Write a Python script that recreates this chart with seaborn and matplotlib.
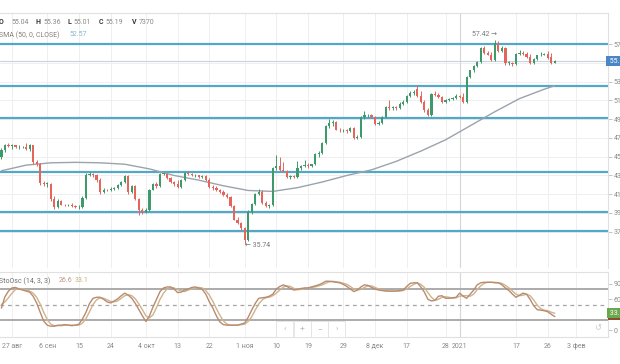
import numpy as np
import pandas as pd
import matplotlib
matplotlib.use("Agg")
import matplotlib.pyplot as plt
import matplotlib.dates as mdates
import matplotlib.transforms as mtrans
from matplotlib.patches import Rectangle
import seaborn as sns

# ---------------- data ----------------
dates = pd.date_range("2020-08-24", periods=158, freq="D")

opens = [45.0, 45.7, 46.3, 46.1, 46.2, 46.0, 46.0, 46.0, 45.8, 46.2,
         44.4, 44.2, 42.2, 42.1, 42.1, 40.5, 39.6, 40.3, 39.9, 39.8,
         39.9, 39.7, 39.6, 39.6, 40.6, 43.1, 43.2, 43.0, 42.5, 41.2,
         41.5, 41.4, 41.6, 41.7, 42.0, 42.3, 42.9, 41.2, 41.9, 40.5,
         39.3, 39.1, 39.3, 41.5, 42.1, 41.9, 43.2, 43.2, 42.7, 42.3,
         42.1, 41.8, 42.5, 43.3, 43.2, 43.0, 43.0, 42.8, 42.9, 42.5,
         41.8, 41.7, 41.4, 41.2, 40.9, 40.7, 39.7, 38.3, 37.9, 37.4,
         36.1, 39.1, 40.0, 41.0, 41.2, 40.1, 39.7, 39.8, 43.8, 44.0,
         43.6, 43.5, 42.8, 42.9, 42.8, 43.8, 44.0, 44.1, 44.0, 44.2,
         45.3, 45.4, 46.5, 48.3, 48.6, 48.7, 47.9, 47.8, 47.9, 47.7,
         48.1, 47.0, 47.1, 49.2, 49.4, 49.5, 49.2, 48.5, 48.6, 49.2,
         50.3, 50.2, 50.3, 50.2, 50.6, 50.8, 51.5, 51.8, 52.2, 51.5,
         50.8, 50.0, 49.4, 51.7, 51.6, 51.4, 50.8, 51.0, 51.2, 51.3,
         51.5, 51.4, 50.8, 53.5, 54.2, 54.7, 55.1, 56.6, 56.1, 55.9,
         55.3, 57.1, 56.3, 56.6, 55.0, 55.0, 54.9, 56.0, 56.1, 56.0,
         55.6, 55.0, 55.4, 55.8, 55.9, 56.0, 55.6, 55.04]

highs = [45.9, 46.4, 46.5, 46.4, 46.3, 46.2, 46.1, 46.5, 46.4, 46.3,
         44.7, 44.3, 42.4, 42.3, 42.2, 40.8, 40.5, 40.4, 40.0, 40.0,
         40.1, 39.9, 39.8, 40.8, 43.3, 43.4, 43.3, 43.2, 42.7, 41.7,
         41.6, 41.8, 41.8, 42.1, 42.4, 43.1, 43.0, 42.0, 42.0, 40.6,
         39.5, 39.5, 41.6, 42.2, 42.3, 43.3, 43.4, 43.3, 42.8, 42.4,
         42.5, 42.6, 43.4, 43.5, 43.3, 43.2, 43.1, 43.0, 43.0, 42.7,
         42.0, 41.9, 41.6, 41.4, 41.1, 40.8, 39.8, 38.6, 38.0, 37.5,
         39.3, 40.1, 41.1, 41.6, 41.4, 40.3, 40.0, 43.9, 45.2, 45.0,
         44.4, 43.6, 43.0, 43.0, 44.5, 44.1, 44.6, 44.3, 44.2, 45.4,
         45.6, 46.6, 48.4, 49.0, 48.9, 48.8, 48.1, 48.0, 48.0, 48.2,
         48.2, 47.3, 49.3, 49.9, 49.6, 49.6, 49.3, 48.8, 49.3, 50.4,
         51.0, 50.4, 50.4, 50.8, 51.0, 51.6, 52.0, 52.1, 52.6, 52.0,
         51.0, 50.2, 51.8, 52.0, 51.8, 51.5, 51.2, 51.3, 51.4, 51.7,
         51.6, 51.8, 53.6, 54.3, 54.8, 55.2, 56.7, 56.8, 56.3, 56.2,
         57.42, 57.3, 56.8, 56.7, 55.2, 55.1, 56.1, 56.4, 56.3, 56.2,
         56.0, 55.5, 55.9, 56.2, 56.1, 56.3, 56.1, 55.36]

lows = [44.8, 45.5, 46.0, 45.8, 45.9, 45.8, 45.9, 45.7, 45.6, 44.2,
        44.0, 42.0, 41.9, 41.8, 40.3, 39.4, 39.5, 39.8, 39.7, 39.7,
        39.6, 39.5, 39.4, 39.5, 40.5, 42.9, 42.8, 42.3, 41.0, 41.1,
        41.3, 41.3, 41.4, 41.6, 41.9, 42.2, 41.0, 41.1, 40.4, 38.8,
        38.9, 39.0, 39.2, 41.4, 41.7, 41.8, 43.0, 42.6, 42.2, 41.9,
        41.7, 41.7, 42.4, 43.0, 42.9, 42.8, 42.7, 42.7, 42.4, 41.7,
        41.5, 41.3, 41.1, 40.8, 40.6, 39.6, 38.2, 37.8, 37.2, 35.74,
        36.0, 38.9, 39.9, 40.9, 40.0, 39.6, 39.5, 39.7, 43.6, 43.5,
        43.4, 42.7, 42.6, 42.7, 42.7, 43.6, 43.9, 43.8, 43.9, 44.1,
        45.0, 45.3, 46.4, 48.1, 48.3, 47.8, 47.6, 47.6, 47.5, 47.6,
        46.9, 46.9, 47.0, 49.0, 49.2, 49.1, 48.4, 48.4, 48.5, 49.1,
        50.0, 50.0, 50.0, 50.1, 50.5, 50.7, 51.4, 51.6, 51.4, 50.7,
        49.8, 49.3, 49.3, 51.5, 51.3, 50.7, 50.7, 50.9, 51.1, 51.2,
        51.3, 50.7, 50.7, 53.4, 54.0, 54.6, 55.0, 56.0, 55.8, 55.2,
        55.2, 56.2, 56.2, 54.8, 54.8, 54.7, 54.8, 55.8, 55.9, 55.5,
        54.9, 54.9, 55.3, 55.7, 55.8, 55.4, 54.9, 55.01]

closes = [45.7, 46.3, 46.1, 46.2, 46.0, 46.0, 46.0, 45.8, 46.2, 44.4,
          44.2, 42.2, 42.1, 42.1, 40.5, 39.6, 40.3, 39.9, 39.8, 39.9,
          39.7, 39.6, 39.6, 40.6, 43.1, 43.2, 43.0, 42.5, 41.2, 41.5,
          41.4, 41.6, 41.7, 42.0, 42.3, 42.9, 41.2, 41.9, 40.5, 39.3,
          39.1, 39.3, 41.5, 42.1, 41.9, 43.2, 43.2, 42.7, 42.3, 42.1,
          41.8, 42.5, 43.3, 43.2, 43.0, 43.0, 42.8, 42.9, 42.5, 41.8,
          41.7, 41.4, 41.2, 40.9, 40.7, 39.7, 38.3, 37.9, 37.4, 36.1,
          39.1, 40.0, 41.0, 41.2, 40.1, 39.7, 39.8, 43.8, 44.0, 43.6,
          43.5, 42.8, 42.9, 42.8, 43.8, 44.0, 44.1, 44.0, 44.2, 45.3,
          45.4, 46.5, 48.3, 48.6, 48.7, 47.9, 47.8, 47.9, 47.7, 48.1,
          47.0, 47.1, 49.2, 49.4, 49.5, 49.2, 48.5, 48.6, 49.2, 50.3,
          50.2, 50.3, 50.2, 50.6, 50.8, 51.5, 51.8, 51.9, 51.5, 50.8,
          50.0, 49.4, 51.7, 51.6, 51.4, 50.8, 51.0, 51.2, 51.3, 51.5,
          51.4, 50.8, 53.5, 54.2, 54.7, 55.1, 56.6, 56.1, 55.9, 55.3,
          57.1, 56.3, 56.6, 55.0, 55.0, 54.9, 56.0, 56.1, 56.0, 55.6,
          55.0, 55.4, 55.8, 55.9, 56.0, 55.5, 55.04, 55.19]

volume_last = 7370

sma_dates = ["2020-08-24", "2020-08-31", "2020-09-07", "2020-09-14", "2020-09-21",
             "2020-09-28", "2020-10-05", "2020-10-12", "2020-10-19", "2020-10-26",
             "2020-11-02", "2020-11-09", "2020-11-16", "2020-11-23", "2020-11-30",
             "2020-12-07", "2020-12-14", "2020-12-21", "2020-12-28", "2021-01-04",
             "2021-01-11", "2021-01-18", "2021-01-25", "2021-01-28"]
sma_vals = [43.5, 44.1, 44.35, 44.4, 44.35, 44.2, 43.7, 43.0, 42.5, 41.9,
            41.4, 41.3, 41.7, 42.3, 43.0, 43.6, 44.5, 45.6, 46.8, 48.3,
            49.8, 51.2, 52.2, 52.57]

stoch_k = [43, 65, 76, 82, 83, 80, 78, 76, 74, 66,
           53, 35, 18, 10, 8, 8, 10, 10, 11, 10,
           9, 10, 12, 22, 35, 52, 62, 64, 64, 60,
           55, 53, 57, 61, 67, 72, 68, 62, 52, 40,
           28, 17, 28, 45, 60, 75, 82, 84, 84, 80,
           73, 74, 78, 80, 83, 84, 82, 79, 70, 55,
           43, 28, 16, 11, 10, 10, 10, 10, 12, 14,
           25, 39, 52, 62, 63, 64, 66, 70, 80, 85,
           88, 85, 81, 78, 79, 81, 82, 82, 84, 86,
           88, 91, 95, 95, 94, 93, 92, 89, 85, 80,
           75, 78, 84, 88, 87, 83, 80, 78, 77, 76,
           76, 76, 76, 77, 78, 85, 91, 92, 92, 84,
           74, 60, 57, 58, 66, 67, 62, 62, 63, 64,
           72, 66, 62, 70, 78, 88, 92, 93, 93, 93,
           92, 92, 88, 82, 77, 70, 64, 68, 72, 70,
           60, 48, 40, 39, 38, 36, 31, 26.6]

stoch_d = [50, 55, 63, 72, 79, 81, 80, 78, 76, 72,
           64, 51, 35, 21, 12, 9, 9, 9, 10, 10,
           10, 10, 10, 14, 23, 36, 50, 59, 63, 62,
           59, 56, 55, 57, 62, 67, 69, 67, 61, 51,
           40, 28, 24, 30, 44, 60, 72, 80, 83, 82,
           79, 76, 75, 78, 80, 82, 83, 82, 77, 68,
           56, 42, 29, 18, 12, 10, 10, 10, 11, 12,
           17, 26, 39, 51, 59, 63, 64, 67, 72, 78,
           84, 86, 85, 81, 79, 79, 81, 82, 83, 84,
           86, 88, 91, 94, 95, 94, 93, 91, 89, 85,
           80, 78, 79, 83, 86, 86, 83, 80, 78, 77,
           76, 76, 76, 76, 77, 80, 85, 89, 92, 89,
           83, 73, 64, 58, 60, 64, 65, 64, 62, 63,
           66, 67, 67, 66, 70, 79, 86, 91, 93, 93,
           93, 92, 91, 87, 82, 76, 70, 67, 68, 70,
           67, 59, 49, 42, 39, 38, 35, 33.1]

levels = [57.0, 52.55, 49.1, 43.4, 39.1, 37.1]
price_ticks = [37, 39, 41, 43, 45, 47, 49, 51, 53, 55, 57]
stoch_ticks = [0, 30, 60, 90]
stoch_bands = [80, 20]
stoch_mid = 50

tick_dates = ["2020-08-27", "2020-09-06", "2020-09-15", "2020-09-24", "2020-10-04",
              "2020-10-13", "2020-10-22", "2020-11-01", "2020-11-10", "2020-11-19",
              "2020-11-29", "2020-12-08", "2020-12-17", "2020-12-28", "2021-01-01",
              "2021-01-17", "2021-01-26", "2021-02-03"]
tick_labels = ["27 авг", "6 сен", "15", "24", "4 окт", "13", "22", "1 ноя", "10",
               "19", "29", "8 дек", "17", "28", "2021", "17", "26", "3 фев"]

# ---------------- style ----------------
sns.set_theme(style="white")
plt.rcParams['font.family'] = ['Roboto', 'DejaVu Sans']

UP = "#3f9a6b"
DN = "#e5645c"
TEAL = "#52a8c6"
GRID = "#efefef"
TXT = "#8a8a8a"
FS = 5

W, H = 620, 364
fig = plt.figure(figsize=(6.2, 3.64), dpi=100)
fig.patch.set_facecolor("white")


def fx(px):
    return px / W


def fy(py):
    return 1 - py / H


ax = fig.add_axes([0, fy(268), fx(608), fy(13) - fy(268)])
ax2 = fig.add_axes([0, fy(337), fx(608), fy(272) - fy(337)])

xn = mdates.date2num(dates)
x_left = xn[0] - 0.4
x_right = x_left + 172.5
tick_nums = mdates.date2num(pd.to_datetime(tick_dates))
year_num = mdates.date2num(pd.Timestamp("2021-01-01"))

o = np.array(opens); h = np.array(highs); l = np.array(lows); c = np.array(closes)
colors = np.where(c >= o, UP, DN)

# levels & price line
for lv in levels:
    ax.axhline(lv, color=TEAL, lw=1.6, zorder=2)
ax.axhline(closes[-1], color="#c3d3e2", lw=0.8, zorder=1.5)

# SMA
sns.lineplot(x=mdates.date2num(pd.to_datetime(sma_dates)), y=sma_vals, ax=ax,
             color="#9ba3ad", lw=1.0, zorder=2.5, legend=False)

# candles
ax.vlines(xn, l, h, colors=colors, lw=0.7, zorder=3)
ax.bar(xn, np.maximum(np.abs(c - o), 0.07), bottom=np.minimum(o, c), width=0.62,
       color=colors, linewidth=0, zorder=4)

ax.set_xlim(x_left, x_right)
ax.set_ylim(33.13, 60.33)
ax.set_xticks(tick_nums)
ax.set_yticks(price_ticks)
# the current-price tag covers the 55 label, as in the reference
ax.set_yticklabels(["" if t == 55 else str(t) for t in price_ticks])
ax.yaxis.tick_right()
ax.tick_params(axis='x', length=0, labelbottom=False)
ax.tick_params(axis='y', length=3, width=0.6, color="#bbbbbb", pad=1,
               labelsize=FS, labelcolor=TXT)
ax.grid(True, color=GRID, lw=0.7)
ax.axvline(year_num, color="#d6d6d6", lw=0.8, zorder=1)
for s in ["left", "bottom"]:
    ax.spines[s].set_visible(False)
for s in ["top", "right"]:
    ax.spines[s].set_color("#e0e0e0")
    ax.spines[s].set_linewidth(0.8)
ax.set_xlabel(""); ax.set_ylabel("")

# extreme annotations
i_hi = int(np.argmax(h)); i_lo = int(np.argmin(l))
ax.annotate(f"{h[i_hi]:.2f} →", xy=(xn[i_hi], h[i_hi]), xytext=(1.5, 1.5),
            textcoords="offset points", ha="right", va="bottom", fontsize=FS, color="#777777")
ax.annotate(f"← {l[i_lo]:.2f}", xy=(xn[i_lo], l[i_lo]), xytext=(0.5, -1.5),
            textcoords="offset points", ha="left", va="center", fontsize=FS, color="#777777")

# current price tag
blend = mtrans.blended_transform_factory(ax.transAxes, ax.transData)
ax.text(1.0, closes[-1], f" {closes[-1]:.2f}", transform=blend, fontsize=FS, color="white",
        va="center", ha="left", clip_on=False, zorder=10,
        bbox=dict(boxstyle="square,pad=0.25", fc="#4a86c5", ec="none"))

# ---------------- stochastic ----------------
for b in stoch_bands:
    ax2.axhline(b, color="#a5a5a5", lw=1.3, zorder=2)
ax2.axhline(stoch_mid, color="#a5a5a5", lw=0.9, ls=(0, (3, 3)), zorder=2)
sns.lineplot(x=xn, y=stoch_d, ax=ax2, color="#cdb48c", lw=1.0, zorder=3, legend=False)
sns.lineplot(x=xn, y=stoch_k, ax=ax2, color="#b98b70", lw=1.0, zorder=4, legend=False)
ax2.set_xlim(x_left, x_right)
ax2.set_ylim(-12.9, 112.9)
ax2.set_yticks(stoch_ticks)
ax2.set_yticklabels(["" if t == 30 else str(t) for t in stoch_ticks])
ax2.yaxis.tick_right()
ax2.set_xticks(tick_nums)
ax2.set_xticklabels(tick_labels)
ax2.tick_params(axis='x', length=0, pad=4, labelsize=FS, labelcolor=TXT)
ax2.tick_params(axis='y', length=3, width=0.6, color="#bbbbbb", pad=1,
                labelsize=FS, labelcolor=TXT)
ax2.grid(True, axis='x', color=GRID, lw=0.7)
ax2.axvline(year_num, color="#d6d6d6", lw=0.8, zorder=1)
for s in ax2.spines.values():
    s.set_color("#e0e0e0"); s.set_linewidth(0.8)
ax2.spines["left"].set_visible(False)
ax2.set_xlabel(""); ax2.set_ylabel("")

blend2 = mtrans.blended_transform_factory(ax2.transAxes, ax2.transData)
ax2.add_patch(Rectangle((1.0, stoch_k[-1] - 6), 0.03, 12, transform=blend2,
                        fc="#8c4a2c", ec="none", clip_on=False, zorder=9))
ax2.text(1.0, stoch_d[-1], f" {stoch_d[-1]:.1f}", transform=blend2, fontsize=FS, color="white",
         va="center", ha="left", clip_on=False, zorder=10,
         bbox=dict(boxstyle="square,pad=0.2", fc="#6aa84f", ec="none"))

# ---------------- header texts ----------------
DARK = "#3a3a3a"
hdr = [("O", -1, DARK, "bold"), (f"{opens[-1]:.2f}", 12, TXT, "normal"),
       ("H", 36, DARK, "bold"), (f"{highs[-1]:.2f}", 43, TXT, "normal"),
       ("L", 67, DARK, "bold"), (f"{lows[-1]:.2f}", 74, TXT, "normal"),
       ("C", 99, DARK, "bold"), (f"{closes[-1]:.2f}", 106, TXT, "normal"),
       ("V", 132, DARK, "bold"), (f"{volume_last}", 139, TXT, "normal")]
for s, px, col, wt in hdr:
    fig.text(fx(px), fy(22), s, fontsize=FS, color=col, weight=wt, va="center", ha="left")
fig.text(fx(-1), fy(35), "SMA (50, 0, CLOSE)", fontsize=FS, color="#8d7f77", va="center", ha="left")
fig.text(fx(70), fy(35), f"{sma_vals[-1]:.2f}", fontsize=FS, color="#86b6cc", va="center", ha="left")
fig.text(fx(-1), fy(281), "StoOsc (14, 3, 3)", fontsize=FS, color="#6f6f6f", va="center", ha="left")
fig.text(fx(59), fy(281), f"{stoch_k[-1]:.1f}", fontsize=FS, color="#c49483", va="center", ha="left")
fig.text(fx(75), fy(281), f"{stoch_d[-1]:.1f}", fontsize=FS, color="#c3b273", va="center", ha="left")

# navigation buttons overlay
for i, s in enumerate(["‹", "+", "−", "›"]):
    x0 = 276 + i * 17.5
    fig.patches.append(Rectangle((fx(x0), fy(337)), fx(17), fy(321) - fy(337),
                                 transform=fig.transFigure, fill=True, fc="white",
                                 ec="#e2e2e2", lw=0.6, zorder=10))
    fig.text(fx(x0 + 8.5), fy(329), s, fontsize=6, color="#b5b5b5", ha="center",
             va="center", zorder=11)
fig.text(fx(598), fy(328), "↺", fontsize=6, color="#c8c8c8", ha="center", va="center",
         family=["DejaVu Sans"])

fig.savefig("out.png", dpi=100, facecolor="white")
